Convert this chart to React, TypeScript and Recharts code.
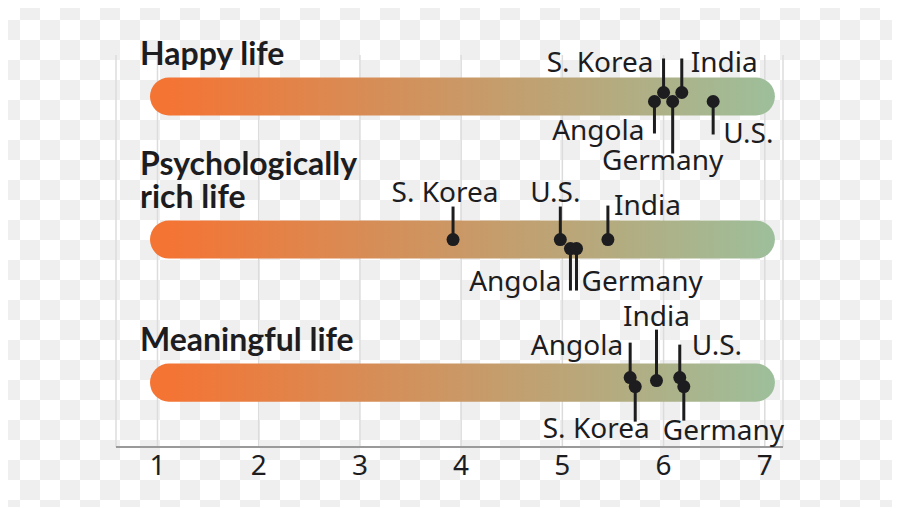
import { ComposedChart, Scatter, XAxis, YAxis, CartesianGrid, ReferenceArea } from 'recharts';

const ROWS = ['Happy life', 'Psychologically rich life', 'Meaningful life'];
const TITLE_LINES = [['Happy life'], ['Psychologically', 'rich life'], ['Meaningful life']];
const COUNTRIES = ['S. Korea', 'India', 'Angola', 'Germany', 'U.S.'];

// mean scores per country, order as COUNTRIES
const HAPPY = [6.0, 6.18, 5.91, 6.09, 6.49];
const RICH = [3.92, 5.45, 5.08, 5.14, 4.98];
const MEANINGFUL = [5.72, 5.93, 5.67, 6.2, 6.16];
const SCORES = [HAPPY, RICH, MEANINGFUL];

const TICKS = [1, 2, 3, 4, 5, 6, 7];

const INK = '#1d1d1f';
const LABEL_FONT = "'Noto Sans', sans-serif";
const TITLE_FONT = "Lato, 'Noto Sans', sans-serif";
const BAR_LEFT = '#f47434';
const BAR_RIGHT = '#9dbf9b';

// pin layout: dot nudge, leader length (neg = up), label anchor / offset
type Pin = { dy: number; len: number; anchor: 'start' | 'middle' | 'end'; dx: number; by: number };
const PIN_LAYOUT: Pin[][] = [
  [
    { dy: -4, len: -34, anchor: 'end', dx: -10, by: 14 },
    { dy: -4, len: -34, anchor: 'start', dx: 9, by: 14 },
    { dy: 5, len: 32, anchor: 'end', dx: -10, by: 7 },
    { dy: 5, len: 52, anchor: 'middle', dx: -10, by: 17 },
    { dy: 5, len: 33, anchor: 'start', dx: 10, by: 9 },
  ],
  [
    { dy: 0, len: -33, anchor: 'middle', dx: -8, by: -5 },
    { dy: 0, len: -34, anchor: 'start', dx: 6, by: 9 },
    { dy: 9, len: 42, anchor: 'end', dx: -9, by: 0 },
    { dy: 9, len: 42, anchor: 'start', dx: 5, by: 0 },
    { dy: 0, len: -33, anchor: 'middle', dx: -5, by: -5 },
  ],
  [
    { dy: 4, len: 35, anchor: 'middle', dx: -39, by: 16 },
    { dy: -2, len: -51, anchor: 'middle', dx: 0, by: -4 },
    { dy: -5, len: -35, anchor: 'end', dx: -7, by: 12 },
    { dy: 4, len: 34, anchor: 'start', dx: -21, by: 19 },
    { dy: -5, len: -33, anchor: 'start', dx: 12, by: 10 },
  ],
];
const TITLE_BASELINES = [[65], [175, 208], [351]];

const points = SCORES.flatMap((vals, row) =>
  vals.map((v, idx) => ({ x: v, y: row, row, idx, country: COUNTRIES[idx] }))
);

const renderPin = (p: any) => {
  const { cx, cy, payload } = p;
  const L = PIN_LAYOUT[payload.row][payload.idx];
  const y0 = cy + L.dy;
  const y1 = y0 + L.len;
  return (
    <g>
      <line x1={cx} x2={cx} y1={y0} y2={y1} stroke={INK} strokeWidth={3} />
      <circle cx={cx} cy={y0} r={6.5} fill={INK} />
      <text
        x={cx + L.dx}
        y={y1 + L.by}
        textAnchor={L.anchor}
        fontSize={28}
        fontFamily={LABEL_FONT}
        fill={INK}
      >
        {payload.country}
      </text>
    </g>
  );
};

const renderBar = (p: any) => (
  <rect x={p.x} y={p.y} width={p.width} height={p.height} rx={p.height / 2} fill="url(#barGrad)" />
);

export default function App() {
  return (
    <div
      style={{
        position: 'relative',
        width: 900,
        height: 515,
        margin: -8,
        background: 'repeating-conic-gradient(#efefef 0 25%, #ffffff 0 50%) 0 0 / 40px 40px',
      }}
    >
      <ComposedChart width={900} height={515} margin={{ top: 55, right: 117, bottom: 0, left: 116 }}>
        <defs>
          <linearGradient id="barGrad" x1="0" y1="0" x2="1" y2="0">
            <stop offset="3%" stopColor={BAR_LEFT} />
            <stop offset="100%" stopColor={BAR_RIGHT} />
          </linearGradient>
        </defs>
        <CartesianGrid horizontal={false} stroke="#dcdcdc" strokeWidth={1.5} />
        <XAxis
          type="number"
          dataKey="x"
          domain={[0.59, 7.18]}
          ticks={TICKS}
          interval={0}
          axisLine={{ stroke: '#9a9a9a', strokeWidth: 2 }}
          tickLine={false}
          tick={{ fill: INK, fontSize: 28, fontFamily: LABEL_FONT }}
          height={68}
        />
        <YAxis type="number" dataKey="y" domain={[-0.29, 2.45]} reversed hide />
        {ROWS.map((r, i) => (
          <ReferenceArea
            key={r}
            x1={0.926}
            x2={7.1}
            y1={i - 0.133}
            y2={i + 0.133}
            shape={renderBar}
            ifOverflow="visible"
          />
        ))}
        <Scatter data={points} shape={renderPin} isAnimationActive={false} />
      </ComposedChart>
      <svg width={900} height={515} style={{ position: 'absolute', left: 0, top: 0, pointerEvents: 'none' }}>
        {TITLE_LINES.map((lines, i) =>
          lines.map((t, j) => (
            <text
              key={t}
              x={140}
              y={TITLE_BASELINES[i][j]}
              fontFamily={TITLE_FONT}
              fontWeight={700}
              fontSize={32}
              fill={INK}
            >
              {t}
            </text>
          ))
        )}
      </svg>
    </div>
  );
}
